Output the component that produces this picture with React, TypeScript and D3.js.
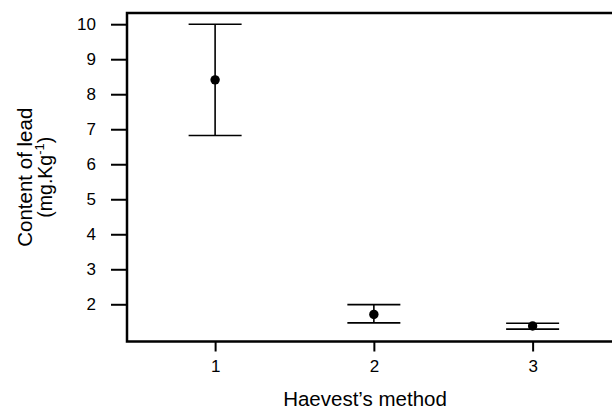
import React, { useEffect, useRef } from 'react';
import * as d3 from 'd3';

// Harvest method vs lead content (mean with error bars)
const methods = [1, 2, 3];
const means = [8.41, 1.71, 1.38];
const upper = [10.0, 1.99, 1.46];
const lower = [6.82, 1.47, 1.29];
const yTicks = [2, 3, 4, 5, 6, 7, 8, 9, 10];

const W = 612;
const H = 410;
const FONT = '"Liberation Sans", Arial, sans-serif';

const App = () => {
  const svgRef = useRef<SVGSVGElement>(null);

  useEffect(() => {
    const svg = d3.select(svgRef.current);
    svg.selectAll('*').remove();

    // plot region (right side runs off the picture)
    const left = 127;
    const top = 13;
    const bottom = 341.5;

    const x = d3.scaleLinear().domain([0.445, 3.5]).range([left, W]);
    const y = d3.scaleLinear().domain([0.937, 10.32]).range([bottom, top]);

    const capHalf = 26.5;

    // y axis
    const yAxis = svg.append('g')
      .attr('transform', `translate(${left},0)`)
      .call(d3.axisLeft(y).tickValues(yTicks).tickSize(16).tickPadding(15).tickFormat(d3.format('d')));
    yAxis.select('.domain').remove();
    yAxis.selectAll('line').attr('stroke', '#000').attr('stroke-width', 2);
    yAxis.selectAll('text')
      .attr('fill', '#000')
      .style('font-family', FONT)
      .style('font-size', '17px');

    // x axis
    const xAxis = svg.append('g')
      .attr('transform', `translate(0,${bottom})`)
      .call(d3.axisBottom(x).tickValues(methods).tickSize(10).tickPadding(8).tickFormat(d3.format('d')));
    xAxis.select('.domain').remove();
    xAxis.selectAll('line').attr('stroke', '#000').attr('stroke-width', 2);
    xAxis.selectAll('text')
      .attr('fill', '#000')
      .style('font-family', FONT)
      .style('font-size', '17px');

    // box
    svg.append('path')
      .attr('d', `M${W + 5},${top}H${left}V${bottom}H${W + 5}`)
      .attr('fill', 'none')
      .attr('stroke', '#000')
      .attr('stroke-width', 2.5);

    // error bars
    const g = svg.append('g');
    methods.forEach((m, i) => {
      const cx = x(m);
      g.append('line')
        .attr('x1', cx).attr('x2', cx)
        .attr('y1', y(upper[i])).attr('y2', y(lower[i]))
        .attr('stroke', '#000').attr('stroke-width', 1.6);
      [upper[i], lower[i]].forEach(v => {
        g.append('line')
          .attr('x1', cx - capHalf).attr('x2', cx + capHalf)
          .attr('y1', y(v)).attr('y2', y(v))
          .attr('stroke', '#000').attr('stroke-width', 1.6);
      });
      g.append('circle')
        .attr('cx', cx).attr('cy', y(means[i]))
        .attr('r', 4.7)
        .attr('fill', '#000');
    });

    // axis titles
    svg.append('text')
      .attr('x', 365)
      .attr('y', 406)
      .attr('text-anchor', 'middle')
      .style('font-family', FONT)
      .style('font-size', '20.5px')
      .attr('fill', '#000')
      .text('Haevest\u2019s method');

    const midY = (top + bottom) / 2;
    svg.append('text')
      .attr('transform', `translate(32,${midY}) rotate(-90)`)
      .attr('text-anchor', 'middle')
      .style('font-family', FONT)
      .style('font-size', '20.5px')
      .attr('fill', '#000')
      .text('Content of lead');

    const t2 = svg.append('text')
      .attr('transform', `translate(52,${midY}) rotate(-90)`)
      .attr('text-anchor', 'middle')
      .style('font-family', FONT)
      .style('font-size', '19.5px')
      .attr('fill', '#000');
    t2.append('tspan').text('(mg.Kg');
    t2.append('tspan').attr('dy', -8).style('font-size', '13px').text('-1');
    t2.append('tspan').attr('dy', 8).text(')');
  }, []);

  return (
    <div style={{ position: 'absolute', left: 0, top: 0, width: W, height: H, background: '#fff' }}>
      <svg ref={svgRef} width={W} height={H} />
    </div>
  );
};

export default App;
